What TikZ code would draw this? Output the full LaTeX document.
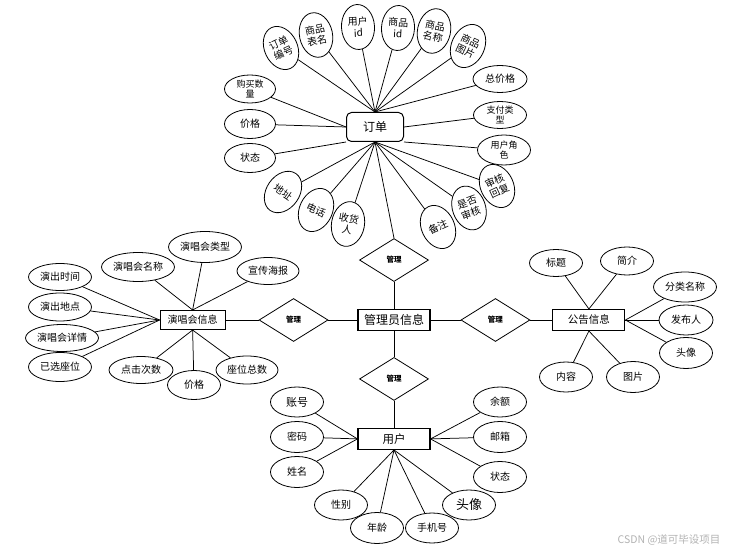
\documentclass[tikz,border=0pt]{standalone}
\usepackage{fontspec}
\setmainfont{Noto Sans CJK SC}
\usetikzlibrary{shapes,positioning}
\tikzstyle{entity} = [rectangle, draw, line width=1.1pt, fill=white, minimum width=72pt, minimum height=21pt, inner sep=1pt, text centered]
\tikzstyle{order} = [rectangle, rounded corners=5pt, draw, line width=1pt, fill=white, minimum width=57pt, minimum height=29pt, font=\fontsize{12}{13}\selectfont]
\tikzstyle{rel} = [diamond, draw, line width=0.8pt, fill=white, minimum width=69pt, minimum height=43pt, inner sep=0pt, font=\fontsize{7.5}{8}\selectfont\bfseries]
\tikzstyle{attr} = [ellipse, draw, line width=0.8pt, fill=white, minimum width=53pt, minimum height=29pt, inner sep=0pt, font=\fontsize{10}{11}\selectfont, align=center]
\tikzstyle{attrtwo} = [attr, font=\fontsize{9}{10.5}\selectfont]
\tikzstyle{tilted} = [ellipse, draw, line width=0.8pt, fill=white, minimum width=33pt, minimum height=45pt, inner sep=0pt, font=\fontsize{10}{11.5}\selectfont, align=center]
\tikzstyle{link} = [line width=0.75pt]

\begin{document}
\begin{tikzpicture}[x=1pt, y=-1pt]
\useasboundingbox (0,0) rectangle (735,553);

% 管理员信息 and the four relations
\node[entity, font=\fontsize{12}{13}\selectfont] (admin) at (394,320) {管理员信息};
\node[rel, above=27pt of admin] (reltop) {管理};
\node[rel, below=26pt of admin] (relbot) {管理};
\node[rel, left=29pt of admin] (relleft) {管理};
\node[rel, right=30pt of admin] (relright) {管理};

% entities
\node[order] (order) at (375,127) {订单};
\node[entity, below=27pt of relbot, font=\fontsize{11.5}{12}\selectfont] (user) {用户};
\node[entity, left=33pt of relleft, minimum width=65pt, minimum height=19pt, font=\fontsize{10}{11}\selectfont] (concert) {演唱会信息};
\node[entity, right=22pt of relright, font=\fontsize{10.5}{11}\selectfont] (notice) {公告信息};

% relation links
\draw[link] (order.south) -- (reltop.north);
\draw[link] (reltop) -- (admin);
\draw[link] (admin) -- (relbot);
\draw[link] (relbot) -- (user);
\draw[link] (admin) -- (relleft);
\draw[link] (relleft) -- (concert);
\draw[link] (admin) -- (relright);
\draw[link] (relright) -- (notice);

% 订单 attributes
\node[tilted, rotate=25] (ddbh) at (281,48) {订单\\编号};
\node[tilted, rotate=12] (spbm) at (316,35) {商品\\表名};
\node[tilted, rotate=3] (yhid) at (358,27) {用户\\id};
\node[tilted, rotate=-3] (spid) at (398,28) {商品\\id};
\node[tilted, rotate=-12] (spmc) at (434,31) {商品\\名称};
\node[tilted, rotate=-25] (sptp) at (468,46) {商品\\图片};
\node[attrtwo, minimum width=51pt, minimum height=28pt] (gmsl) at (250,89) {购买数\\量};
\node[attr, minimum width=51pt] (jga) at (250,124) {价格};
\node[attr, minimum width=51pt] (zta) at (250,158) {状态};
\node[attr, minimum width=54pt, minimum height=27pt] (zjg) at (500,79) {总价格};
\node[attrtwo, minimum width=53pt, minimum height=27pt] (zflx) at (500,115) {支付类\\型};
\node[attrtwo, minimum width=53pt, minimum height=30pt] (yhjs) at (504,150) {用户角\\色};
\node[tilted, rotate=-35] (dz) at (283,192) {地址};
\node[tilted, rotate=-25] (dh) at (316,210) {电话};
\node[tilted, rotate=-10] (shr) at (348,224) {收货\\人};
\node[tilted, rotate=25] (bz) at (438,227) {备注};
\node[tilted, rotate=20] (sfsh) at (469,208) {是否\\审核};
\node[tilted, rotate=25] (shhf) at (497,186) {审核\\回复};

\draw[link] (ddbh) -- (order.north);
\draw[link] (spbm) -- (order.north);
\draw[link] (yhid) -- (order.north);
\draw[link] (spid) -- (order.north);
\draw[link] (spmc) -- (order.north);
\draw[link] (sptp) -- (order.north);
\draw[link] (zjg) -- (order.north);
\draw[link] (gmsl) -- (order.west);
\draw[link] (jga) -- (order.west);
\draw[link] (zta) -- (order.south west);
\draw[link] (zflx) -- (order.east);
\draw[link] (yhjs) -- (order.south east);
\draw[link] (dz) -- (order.south);
\draw[link] (dh) -- (order.south);
\draw[link] (shr) -- (order.south);
\draw[link] (bz) -- (order.south);
\draw[link] (sfsh) -- (order.south);
\draw[link] (shhf) -- (order.south);

% 演唱会信息 attributes
\node[attr, minimum width=73pt, minimum height=31pt] (ychlx) at (205,247) {演唱会类型};
\node[attr, minimum width=73pt] (ychmc) at (138,267) {演唱会名称};
\node[attr, minimum width=62pt, minimum height=27pt] (xchb) at (268,271) {宣传海报};
\node[attr, minimum width=63pt, minimum height=27pt] (ycsj) at (60,277) {演出时间};
\node[attr, minimum width=63pt, minimum height=28pt] (ycdd) at (60,307) {演出地点};
\node[attr, minimum width=73pt, minimum height=27pt] (ychxq) at (62,338) {演唱会详情};
\node[attr, minimum width=63pt] (yxzw) at (60,367) {已选座位};
\node[attr, minimum width=64pt, minimum height=27pt] (djcs) at (141,370) {点击次数};
\node[attr] (jgb) at (194,385) {价格};
\node[attr, minimum width=62pt, minimum height=28pt] (zwzs) at (247,370) {座位总数};

\draw[link] (ychlx) -- (concert.north);
\draw[link] (ychmc) -- (concert.north);
\draw[link] (xchb) -- (concert.north);
\draw[link] (ycsj) -- (concert.west);
\draw[link] (ycdd) -- (concert.west);
\draw[link] (ychxq) -- (concert.west);
\draw[link] (yxzw) -- (concert.west);
\draw[link] (djcs) -- (concert.south);
\draw[link] (jgb) -- (concert.south);
\draw[link] (zwzs) -- (concert.south);

% 公告信息 attributes
\node[attr, minimum height=27pt] (bt) at (556,263) {标题};
\node[attr, minimum height=28pt] (jj) at (627,261) {简介};
\node[attr, minimum width=63pt, minimum height=30pt] (flmc) at (685,287) {分类名称};
\node[attr, minimum width=54pt, minimum height=30pt] (fbr) at (686,320) {发布人};
\node[attr, minimum height=31pt] (txa) at (686,353) {头像};
\node[attr, minimum height=30pt] (nr) at (566,377) {内容};
\node[attr, minimum height=31pt] (tp) at (633,377) {图片};

\draw[link] (bt) -- (notice.north);
\draw[link] (jj) -- (notice.north);
\draw[link] (flmc) -- (notice.east);
\draw[link] (fbr) -- (notice.east);
\draw[link] (txa) -- (notice.east);
\draw[link] (nr) -- (notice.south);
\draw[link] (tp) -- (notice.south);

% 用户 attributes
\node[attr, minimum height=30pt, font=\fontsize{11}{12}\selectfont] (zh) at (297,402) {账号};
\node[attr, minimum height=31pt] (mm) at (297,437) {密码};
\node[attr, minimum height=31pt] (xm) at (297,472) {姓名};
\node[attr, minimum height=30pt] (ye) at (500,402) {余额};
\node[attr, minimum height=31pt] (yx) at (500,437) {邮箱};
\node[attr, minimum height=31pt] (ztb) at (500,477) {状态};
\node[attr, minimum height=30pt] (xb) at (341,505) {性别};
\node[attr, minimum height=31pt] (nl) at (377,528) {年龄};
\node[attr, minimum height=30pt] (sjh) at (432,528) {手机号};
\node[attr, minimum height=30pt, font=\fontsize{13}{14}\selectfont] (txb) at (469,505) {头像};

\draw[link] (zh) -- (user.west);
\draw[link] (mm) -- (user.west);
\draw[link] (xm) -- (user.west);
\draw[link] (ye) -- (user.east);
\draw[link] (yx) -- (user.east);
\draw[link] (ztb) -- (user.east);
\draw[link] (xb) -- (user.south);
\draw[link] (nl) -- (user.south);
\draw[link] (sjh) -- (user.south);
\draw[link] (txb) -- (user.south);

% watermark
\node[text=gray!60, font=\fontsize{10.5}{11}\selectfont, anchor=east] (mark) at (724,540) {CSDN @道可毕设项目};

\end{tikzpicture}
\end{document}
